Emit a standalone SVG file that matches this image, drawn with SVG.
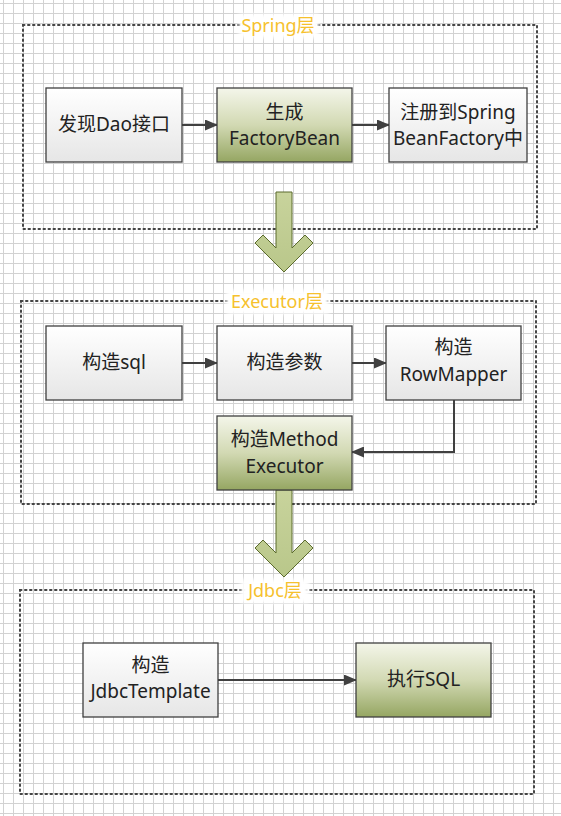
<svg xmlns="http://www.w3.org/2000/svg" width="561" height="816" viewBox="0 0 561 816">
<defs>
<pattern id="grid" x="3" y="3" width="10" height="10" patternUnits="userSpaceOnUse">
<path d="M0 0.5H10M0.5 0V10" fill="none" stroke="#d2d2d2" stroke-width="1"/>
</pattern>
<linearGradient id="gw" x1="0" y1="0" x2="0" y2="1">
<stop offset="0" stop-color="#ffffff"/>
<stop offset="1" stop-color="#e6e6e6"/>
</linearGradient>
<linearGradient id="gg" x1="0" y1="0" x2="0" y2="1">
<stop offset="0" stop-color="#f4f6ea"/>
<stop offset="0.5" stop-color="#d2d9b3"/>
<stop offset="1" stop-color="#95a662"/>
</linearGradient>
<linearGradient id="ga" x1="0" y1="0" x2="0" y2="1">
<stop offset="0" stop-color="#c8d39c"/>
<stop offset="1" stop-color="#b9c78a"/>
</linearGradient>
<marker id="ah" markerWidth="13" markerHeight="11" refX="12" refY="5.5" orient="auto" markerUnits="userSpaceOnUse">
<path d="M0 0L13 5.5L0 11Z" fill="#404040"/>
</marker>
<filter id="lb" x="-20%" y="-40%" width="140%" height="180%">
<feGaussianBlur stdDeviation="2"/>
</filter>
</defs>
<style>
.cont{fill:none;stroke:#444;stroke-width:2;stroke-dasharray:1.5 3.5;stroke-linecap:round}
.bw{fill:url(#gw);stroke:#3f3f3f;stroke-width:1.3}
.bg{fill:url(#gg);stroke:#3f3f3f;stroke-width:1.3}
.t{font-family:"Noto Sans","Noto Sans CJK SC",sans-serif;font-size:19px;fill:#222;text-anchor:middle}
.lab{font-family:"Noto Sans","Noto Sans CJK SC",sans-serif;font-size:18px;fill:#f6c12d;text-anchor:middle}
.lbg{fill:#fff;filter:url(#lb)}
.con{fill:none;stroke:#404040;stroke-width:2;marker-end:url(#ah)}
.big{fill:url(#ga);stroke:#5b6b2c;stroke-width:1}
</style>
<rect width="561" height="816" fill="#ffffff"/>
<rect width="561" height="816" fill="url(#grid)"/>

<g id="spring-layer">
<rect class="cont" x="23" y="25" width="514" height="204"/>
<rect class="lbg" x="239" y="14" width="80" height="24"/>
<text class="lab" x="278" y="32">Spring层</text>
</g>
<g id="executor-layer">
<rect class="cont" x="21" y="301" width="515" height="203"/>
<rect class="lbg" x="226" y="290" width="103" height="24"/>
<text class="lab" x="277" y="308">Executor层</text>
</g>
<g id="jdbc-layer">
<rect class="cont" x="20" y="590" width="514" height="204"/>
<rect class="lbg" x="241" y="579" width="68" height="24"/>
<text class="lab" x="275" y="597">Jdbc层</text>
</g>

<g id="connectors">
<line class="con" x1="182" y1="125" x2="217" y2="125"/>
<line class="con" x1="352" y1="125" x2="389" y2="125"/>
<line class="con" x1="182" y1="363" x2="217" y2="363"/>
<line class="con" x1="352" y1="363" x2="386" y2="363"/>
<polyline class="con" points="454,400 454,452 352,452"/>
<line class="con" x1="218" y1="680" x2="356" y2="680"/>
<polygon class="big" points="276,192 292,192 292,248 305,235 313,243 284,272 255,243 263,235 276,248"/>
<polygon class="big" points="276,490 292,490 292,553 305,540 313,548 284,577 255,548 263,540 276,553"/>
</g>

<g id="n-dao">
<rect class="bw" x="46" y="88" width="136" height="74"/>
<text class="t" x="114" y="131">发现Dao接口</text>
</g>
<g id="n-factorybean">
<rect class="bg" x="217" y="88" width="135" height="74"/>
<text class="t" x="284.5" y="119">生成</text>
<text class="t" x="284.5" y="145">FactoryBean</text>
</g>
<g id="n-register">
<rect class="bw" x="389" y="88" width="138" height="74"/>
<text class="t" x="458" y="119">注册到Spring</text>
<text class="t" x="458" y="145">BeanFactory中</text>
</g>

<g id="n-sql">
<rect class="bw" x="46" y="326" width="136" height="74"/>
<text class="t" x="114" y="369">构造sql</text>
</g>
<g id="n-params">
<rect class="bw" x="217" y="326" width="135" height="74"/>
<text class="t" x="284.5" y="369">构造参数</text>
</g>
<g id="n-rowmapper">
<rect class="bw" x="386" y="326" width="135" height="74"/>
<text class="t" x="453.5" y="354">构造</text>
<text class="t" x="453.5" y="381">RowMapper</text>
</g>
<g id="n-methodexecutor">
<rect class="bg" x="217" y="416" width="135" height="74"/>
<text class="t" x="284.5" y="446">构造Method</text>
<text class="t" x="284.5" y="473">Executor</text>
</g>

<g id="n-jdbctemplate">
<rect class="bw" x="83" y="643" width="135" height="74"/>
<text class="t" x="150.5" y="672">构造</text>
<text class="t" x="150.5" y="698">JdbcTemplate</text>
</g>
<g id="n-execsql">
<rect class="bg" x="356" y="643" width="135" height="74"/>
<text class="t" x="423.5" y="686">执行SQL</text>
</g>
</svg>
